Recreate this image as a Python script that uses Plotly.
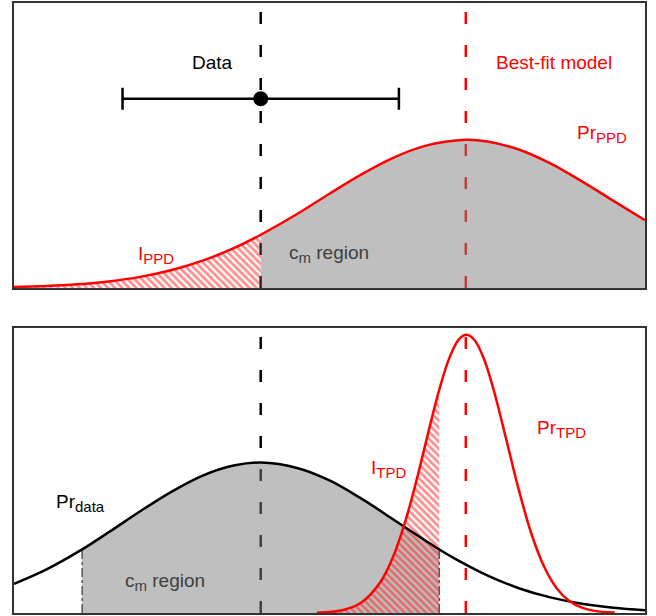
import plotly.graph_objects as go
from plotly.subplots import make_subplots

# x axis runs 0..10 across each panel, y is relative height 0..1
data_x = 3.91
model_x = 7.16
data_err = 2.19
data_y = 0.664

# top panel: posterior predictive distribution (red)
ppd_x = [0, 0.5, 1, 1.5, 2, 2.5, 3, 3.5, 3.91, 4.5, 5, 5.5, 6, 6.5, 7.16, 7.5, 8, 8.5, 9, 9.5, 10]
ppd_y = [0.0036, 0.0070, 0.0131, 0.0232, 0.0392, 0.0632, 0.097, 0.1416, 0.187, 0.2615, 0.331,
         0.398, 0.456, 0.498, 0.52, 0.514, 0.486, 0.437, 0.374, 0.306, 0.238]

# bottom panel: data distribution (black)
dat_x = [0, 0.5, 1.08, 1.5, 2, 2.5, 3, 3.5, 3.91, 4.5, 5, 5.5, 6, 6.5, 6.74, 7, 7.5, 8, 8.5, 9, 9.5, 10]
dat_y = [0.102, 0.151, 0.223, 0.283, 0.357, 0.426, 0.483, 0.518, 0.528, 0.508, 0.465, 0.402,
         0.330, 0.257, 0.223, 0.189, 0.132, 0.087, 0.0547, 0.0325, 0.0183, 0.0098]

# bottom panel: theoretical predictive distribution (red, narrow)
tpd_x = [4.8, 5.2, 5.5, 5.8, 6.0, 6.2, 6.4, 6.6, 6.74, 6.9, 7.05, 7.17, 7.3, 7.45, 7.6, 7.8, 8.0,
         8.2, 8.4, 8.6, 8.8, 9.0, 9.2, 9.52]
tpd_y = [0.0013, 0.0099, 0.036, 0.106, 0.193, 0.3205, 0.484, 0.6645, 0.784, 0.895, 0.960, 0.976,
         0.957, 0.890, 0.784, 0.610, 0.432, 0.278, 0.163, 0.0868, 0.042, 0.0186, 0.0074, 0.0014]

cm_lo = 1.08
cm_hi = 6.74

RED = "#ff0000"
GREY_FILL = "rgba(128,128,128,0.5)"
FONT = "Liberation Sans, Arial, sans-serif"


def sub(main, low):
    return main + '<sub><span style="font-size:15px">' + low + '</span></sub>'


fig = make_subplots(rows=2, cols=1, vertical_spacing=0.0654)
fig.update_yaxes(domain=[0.5327, 1.0], row=1, col=1)
fig.update_yaxes(domain=[0.0, 0.4673], row=2, col=1)

hatch = dict(shape="\\", fgcolor="#ff2020", bgcolor="rgba(0,0,0,0)", size=5, solidity=0.55)

# ---- top panel
i_d = ppd_x.index(data_x)
fig.add_trace(go.Scatter(x=ppd_x[i_d:], y=ppd_y[i_d:], mode="lines", line=dict(width=0, shape="spline"),
                         fill="tozeroy", fillcolor=GREY_FILL), row=1, col=1)
fig.add_trace(go.Scatter(x=ppd_x[:i_d + 1], y=ppd_y[:i_d + 1], mode="lines",
                         line=dict(width=0, shape="spline"), fill="tozeroy",
                         fillcolor="rgba(0,0,0,0)", fillpattern=hatch), row=1, col=1)
fig.add_trace(go.Scatter(x=ppd_x, y=ppd_y, mode="lines", line=dict(color=RED, width=2.5, shape="spline")),
              row=1, col=1)
fig.add_trace(go.Scatter(x=[data_x], y=[data_y], mode="markers",
                         marker=dict(color="black", size=15),
                         error_x=dict(type="data", array=[data_err], color="black", thickness=2.5, width=11)),
              row=1, col=1)

# ---- bottom panel
i_lo, i_hi = dat_x.index(cm_lo), dat_x.index(cm_hi)
fig.add_trace(go.Scatter(x=dat_x[i_lo:i_hi + 1], y=dat_y[i_lo:i_hi + 1], mode="lines",
                         line=dict(width=0, shape="spline"), fill="tozeroy", fillcolor=GREY_FILL),
              row=2, col=1)
for xv, yv in [(cm_lo, dat_y[i_lo]), (cm_hi, dat_y[i_hi])]:
    fig.add_trace(go.Scatter(x=[xv, xv], y=[0, yv], mode="lines",
                             line=dict(color="#555555", width=1.5, dash="dashdot")), row=2, col=1)
i_t = tpd_x.index(cm_hi)
fig.add_trace(go.Scatter(x=tpd_x[:i_t + 1], y=tpd_y[:i_t + 1], mode="lines",
                         line=dict(width=0, shape="spline"), fill="tozeroy",
                         fillcolor="rgba(0,0,0,0)", fillpattern=hatch), row=2, col=1)
fig.add_trace(go.Scatter(x=dat_x, y=dat_y, mode="lines", line=dict(color="black", width=2.5, shape="spline")),
              row=2, col=1)
fig.add_trace(go.Scatter(x=tpd_x, y=tpd_y, mode="lines", line=dict(color=RED, width=2.5, shape="spline")),
              row=2, col=1)

# dashed vertical lines, kept beneath the fills
for r in (1, 2):
    yref = "y domain" if r == 1 else "y2 domain"
    xref = "x" if r == 1 else "x2"
    fig.add_shape(type="line", x0=data_x, x1=data_x, y0=0, y1=1, xref=xref, yref=yref, layer="below",
                  line=dict(color="black", width=2.5, dash="12px,21px"))
    fig.add_shape(type="line", x0=model_x, x1=model_x, y0=0, y1=1, xref=xref, yref=yref, layer="below",
                  line=dict(color=RED, width=2.5, dash="12px,21px"))

labels = [
    (1, 3.15, 0.79, "Data", "black"),
    (1, 8.56, 0.79, "Best-fit model", RED),
    (1, 9.32, 0.54, sub("Pr", "PPD"), RED),
    (1, 2.25, 0.115, sub("I", "PPD"), RED),
    (1, 4.99, 0.12, sub("c", "m") + " region", "#404040"),
    (2, 1.05, 0.385, sub("Pr", "data"), "black"),
    (2, 2.39, 0.11, sub("c", "m") + " region", "#404040"),
    (2, 5.94, 0.505, sub("I", "TPD"), RED),
    (2, 8.67, 0.645, sub("Pr", "TPD"), RED),
]
for r, lx, ly, txt, col in labels:
    fig.add_annotation(x=lx, y=ly, xref="x" if r == 1 else "x2", yref="y" if r == 1 else "y2",
                       text=txt, showarrow=False, font=dict(family=FONT, size=19, color=col))

fig.update_xaxes(range=[0, 10], showticklabels=False, ticks="", showgrid=False, zeroline=False,
                 showline=True, mirror=True, linecolor="#333333", linewidth=1.5)
fig.update_yaxes(range=[0, 1], showticklabels=False, ticks="", showgrid=False, zeroline=False,
                 showline=True, mirror=True, linecolor="#333333", linewidth=1.5)

fig.update_layout(width=656, height=616, showlegend=False, plot_bgcolor="white", paper_bgcolor="white",
                  margin=dict(l=14, r=11, t=1, b=3), font=dict(family=FONT))

fig.write_html("out.html", config={"displayModeBar": False},
               post_script=["document.body.style.margin='0';"])
